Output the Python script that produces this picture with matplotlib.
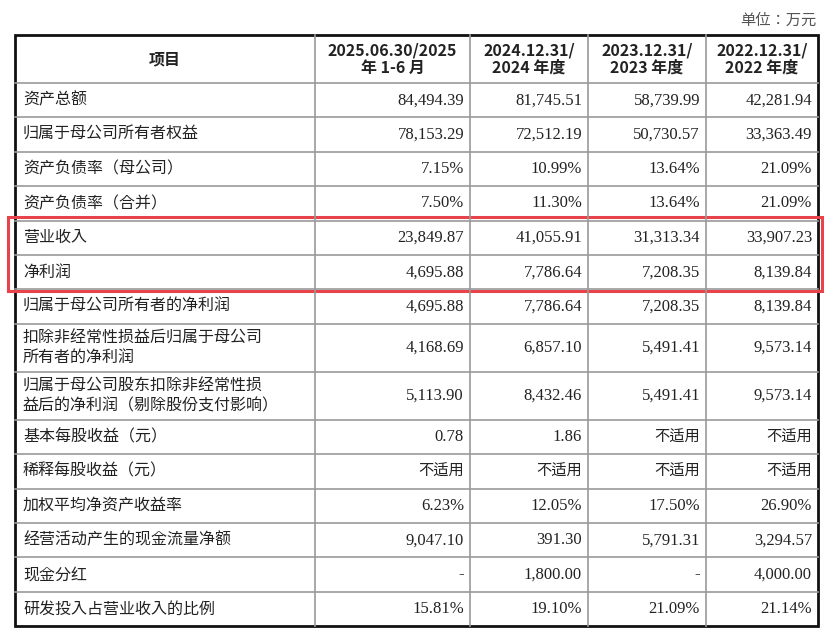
import matplotlib
matplotlib.use("Agg")
import matplotlib.pyplot as plt
from matplotlib.patches import Rectangle

SERIF = ['Liberation Serif', 'DejaVu Serif']
CJK = ['Noto Sans CJK SC', 'Noto Sans CJK JP', 'Noto Sans CJK TC', 'DejaVu Sans']

def fam(s):
    return CJK if any(ord(ch) > 0x2E80 for ch in s) else SERIF

headers = ["项目", "2025.06.30/2025\n年 1-6 月", "2024.12.31/\n2024 年度", "2023.12.31/\n2023 年度", "2022.12.31/\n2022 年度"]
items = ["资产总额", "归属于母公司所有者权益", "资产负债率（母公司）", "资产负债率（合并）",
         "营业收入", "净利润", "归属于母公司所有者的净利润",
         "扣除非经常性损益后归属于母公司\n所有者的净利润",
         "归属于母公司股东扣除非经常性损\n益后的净利润（剔除股份支付影响）",
         "基本每股收益（元）", "稀释每股收益（元）", "加权平均净资产收益率",
         "经营活动产生的现金流量净额", "现金分红", "研发投入占营业收入的比例"]
col_2025H1 = ["84,494.39", "78,153.29", "7.15%", "7.50%", "23,849.87", "4,695.88", "4,695.88",
              "4,168.69", "5,113.90", "0.78", "不适用", "6.23%", "9,047.10", "-", "15.81%"]
col_2024 = ["81,745.51", "72,512.19", "10.99%", "11.30%", "41,055.91", "7,786.64", "7,786.64",
            "6,857.10", "8,432.46", "1.86", "不适用", "12.05%", "391.30", "1,800.00", "19.10%"]
col_2023 = ["58,739.99", "50,730.57", "13.64%", "13.64%", "31,313.34", "7,208.35", "7,208.35",
            "5,491.41", "5,491.41", "不适用", "不适用", "17.50%", "5,791.31", "-", "21.09%"]
col_2022 = ["42,281.94", "33,363.49", "21.09%", "21.09%", "33,907.23", "8,139.84", "8,139.84",
            "9,573.14", "9,573.14", "不适用", "不适用", "26.90%", "3,294.57", "4,000.00", "21.14%"]
unit_label = "单位：万元"

cols = [col_2025H1, col_2024, col_2023, col_2022]
xb = [15, 315, 470, 588, 706, 818]
top, head_h, h1, h2 = 35, 48, 34.4, 48

fig = plt.figure(figsize=(8.3, 6.39), dpi=100)
ax = fig.add_axes([0, 0, 1, 1])
ax.set_xlim(0, 830); ax.set_ylim(639, 0); ax.axis('off')

tc = '#222222'
ax.text(xb[-1] - 2, 20, unit_label, ha='right', va='center', fontsize=11, color='#555555', family=fam(unit_label))

yc = top + head_h / 2
for i, hd in enumerate(headers):
    ax.text((xb[i] + xb[i+1]) / 2, yc, hd, ha='center', va='center', fontsize=11.5,
            fontweight='bold', color=tc, linespacing=1.15, family=fam(hd))
ys = [top, top + head_h]
y = top + head_h
for r, it in enumerate(items):
    hh = h2 if '\n' in it else h1
    c = y + hh / 2
    ax.text(xb[0] + 8, c, it, ha='left', va='center', fontsize=11.5, color=tc,
            linespacing=1.2, family=fam(it))
    for j, col in enumerate(cols):
        v = col[r]
        ax.text(xb[j+2] - 6, c, v, ha='right', va='center',
                fontsize=11 if fam(v) is CJK else 12, color=tc, family=fam(v))
    y += hh
    ys.append(y)

for yy in ys[1:-1]:
    ax.plot([xb[0], xb[-1]], [yy, yy], color='#9a9a9a', lw=1.2)
for xx in xb[1:-1]:
    ax.plot([xx, xx], [top, ys[-1]], color='#9a9a9a', lw=1.2)
ax.add_patch(Rectangle((xb[0], top), xb[-1] - xb[0], ys[-1] - top, fill=False, ec='#111111', lw=2))
ax.add_patch(Rectangle((8, ys[5] - 4), 814, ys[7] - ys[5] + 6, fill=False, ec='#e8424a', lw=2.2))

fig.savefig('out.png', dpi=100)
